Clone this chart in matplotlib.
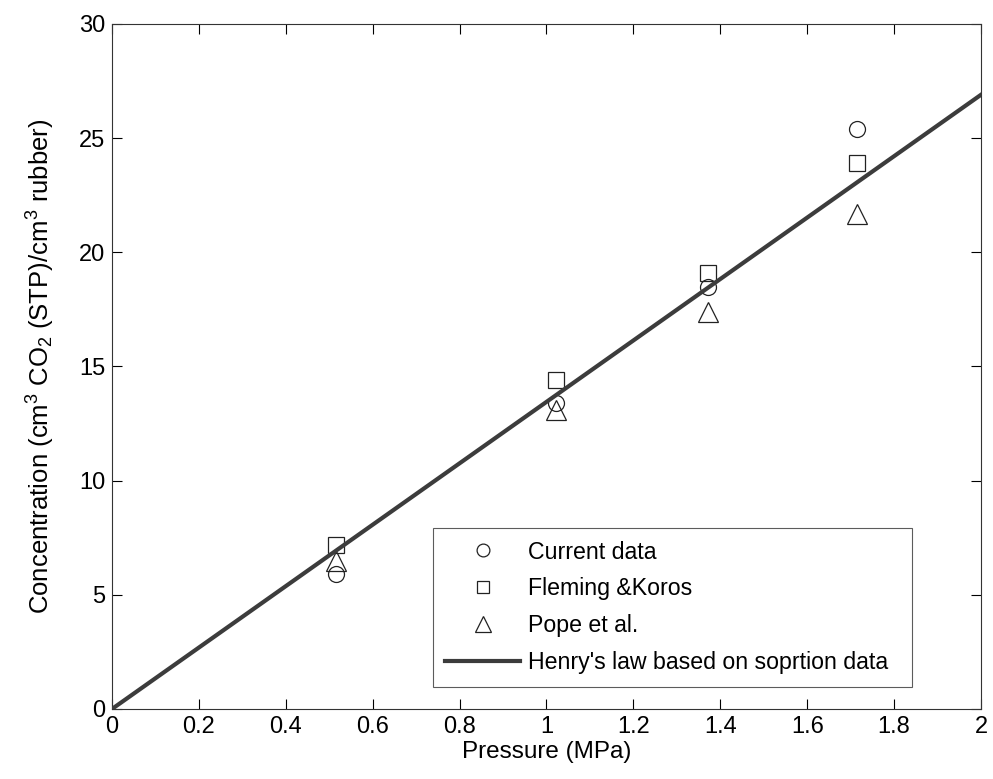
import matplotlib
matplotlib.use("Agg")
import matplotlib.pyplot as plt
import numpy as np

plt.rcParams['font.family'] = ['Liberation Sans', 'DejaVu Sans']
plt.rcParams['mathtext.default'] = 'regular'
plt.rcParams['mathtext.fontset'] = 'custom'
plt.rcParams['mathtext.rm'] = 'Liberation Sans'

# Pressure (MPa) and CO2 concentration data
pressure = [0.515, 1.022, 1.372, 1.715]
current_data = [5.9, 13.4, 18.5, 25.4]
fleming_koros = [7.2, 14.4, 19.1, 23.9]
pope_et_al = [6.5, 13.1, 17.4, 21.7]

# Henry's law fit line
henry_pressure = [0.0, 2.0]
henry_conc = [0.0, 26.9]

x_ticks = [0, 0.2, 0.4, 0.6, 0.8, 1, 1.2, 1.4, 1.6, 1.8, 2]
x_tick_labels = ['0', '0.2', '0.4', '0.6', '0.8', '1', '1.2', '1.4', '1.6', '1.8', '2']
y_ticks = [0, 5, 10, 15, 20, 25, 30]

fig = plt.figure(figsize=(9.93, 7.79), dpi=100)
ax = fig.add_axes([0.1128, 0.0899, 0.8751, 0.8793])

mk = dict(linestyle='none', markerfacecolor='none', markeredgecolor='#222222',
          markeredgewidth=0.9)
ax.plot(pressure, current_data, marker='o', markersize=11.5, label='Current data', **mk)
ax.plot(pressure, fleming_koros, marker='s', markersize=11.5, label='Fleming &Koros', **mk)
ax.plot(pressure, pope_et_al, marker='^', markersize=14, label='Pope et al.', **mk)
ax.plot(henry_pressure, henry_conc, color='#3c3c3c', linewidth=3.0,
        label="Henry's law based on soprtion data", zorder=3)

ax.set_xlim(0, 2)
ax.set_ylim(0, 30)
ax.set_xticks(x_ticks)
ax.set_xticklabels(x_tick_labels)
ax.set_yticks(y_ticks)
ax.tick_params(direction='in', length=7, width=0.8, top=True, right=True,
               labelsize=17, pad=5)
for s in ax.spines.values():
    s.set_linewidth(0.8)
    s.set_color('#333333')

ax.set_xlabel('Pressure (MPa)', fontsize=17.5, labelpad=2)
ax.set_ylabel('Concentration (cm$^3$ CO$_2$ (STP)/cm$^3$ rubber)', fontsize=18.5, labelpad=16)

leg = ax.legend(loc='lower left', bbox_to_anchor=(0.369, 0.032, 0.552, 0.229),
                mode='expand', fontsize=16.7, frameon=True, fancybox=False,
                edgecolor='#333333', handlelength=3.2, handletextpad=0.35,
                labelspacing=0.6, borderpad=0.55, markerscale=0.8, borderaxespad=0)
leg.get_frame().set_linewidth(0.8)

fig.savefig('out.png', dpi=100)
